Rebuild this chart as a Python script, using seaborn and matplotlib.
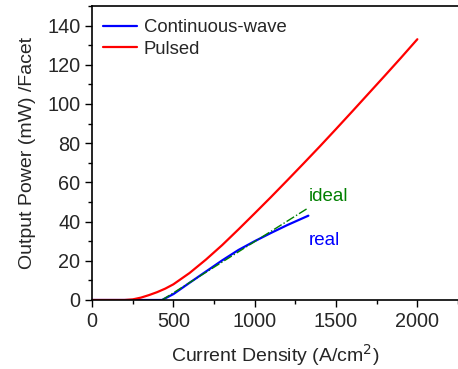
import numpy as np
import pandas as pd
import matplotlib
matplotlib.use("Agg")
import matplotlib.pyplot as plt
import seaborn as sns
from matplotlib.ticker import MultipleLocator

# Pulsed operation
pulsed_j = [0, 100, 200, 250, 300, 350, 400, 450, 500, 600, 700, 800, 900, 1000,
            1100, 1200, 1300, 1400, 1500, 1600, 1700, 1800, 1900, 2000]
pulsed_p = [0, 0, 0, 0.3, 1.2, 2.5, 4.0, 5.8, 8.0, 13.8, 20.6, 28.0, 36.0, 44.2,
            52.5, 61.0, 69.6, 78.3, 87.2, 96.2, 105.3, 114.4, 123.6, 133.0]

# Continuous-wave (real)
cw_j = [0, 200, 400, 430, 500, 600, 700, 800, 900, 1000, 1100, 1200, 1330]
cw_p = [0, 0, 0, 0, 3.0, 8.8, 14.5, 20.2, 25.5, 30.0, 34.2, 38.2, 43.0]

# ideal extrapolation
ideal_j = [430, 1000, 1330]
ideal_p = [0, 29.8, 47.0]

sns.set_theme(style="ticks")
plt.rcParams['font.family'] = ['Liberation Sans', 'DejaVu Sans']

df = pd.concat([
    pd.DataFrame({"j": cw_j, "p": cw_p, "series": "Continuous-wave"}),
    pd.DataFrame({"j": pulsed_j, "p": pulsed_p, "series": "Pulsed"}),
])

fig = plt.figure(figsize=(4.58, 3.69), dpi=100)
ax = fig.add_axes([0.201, 0.187, 0.799, 0.797])

sns.lineplot(data=df, x="j", y="p", hue="series", palette=["#0000ff", "#ff0000"],
             linewidth=1.6, ax=ax, sort=False, estimator=None)
ax.plot(ideal_j, ideal_p, color="#008000", linestyle="-.", linewidth=1.0)

ax.text(1330, 48.5, "ideal", color="#008000", fontsize=13.5, ha="left", va="bottom")
ax.text(1330, 30.5, "real", color="#0000ff", fontsize=13.5, ha="left", va="center")

ax.set_xlim(0, 2250)
ax.set_ylim(0, 150)
ax.xaxis.set_major_locator(MultipleLocator(500))
ax.xaxis.set_minor_locator(MultipleLocator(250))
ax.yaxis.set_minor_locator(MultipleLocator(10))
ax.set_yticks([0, 20, 40, 60, 80, 100, 120, 140])
ax.tick_params(axis="both", which="major", labelsize=14.3, length=5, width=1, direction="out", color="black")
ax.tick_params(axis="both", which="minor", length=3, width=1, direction="out", color="black")
ax.set_xlabel("Current Density (A/cm$^2$)", fontsize=14, labelpad=8)
ax.set_ylabel("Output Power (mW) /Facet", fontsize=14, labelpad=8)
for s in ["left", "bottom", "top"]:
    ax.spines[s].set_linewidth(1.2)
    ax.spines[s].set_color("black")
ax.spines["right"].set_visible(False)

ax.legend(loc="upper left", bbox_to_anchor=(0.01, 0.98), frameon=False, fontsize=13.3,
          handlelength=1.85, handletextpad=0.35, borderaxespad=0, labelspacing=0.25, title=None)

fig.savefig("out.png", dpi=100)
